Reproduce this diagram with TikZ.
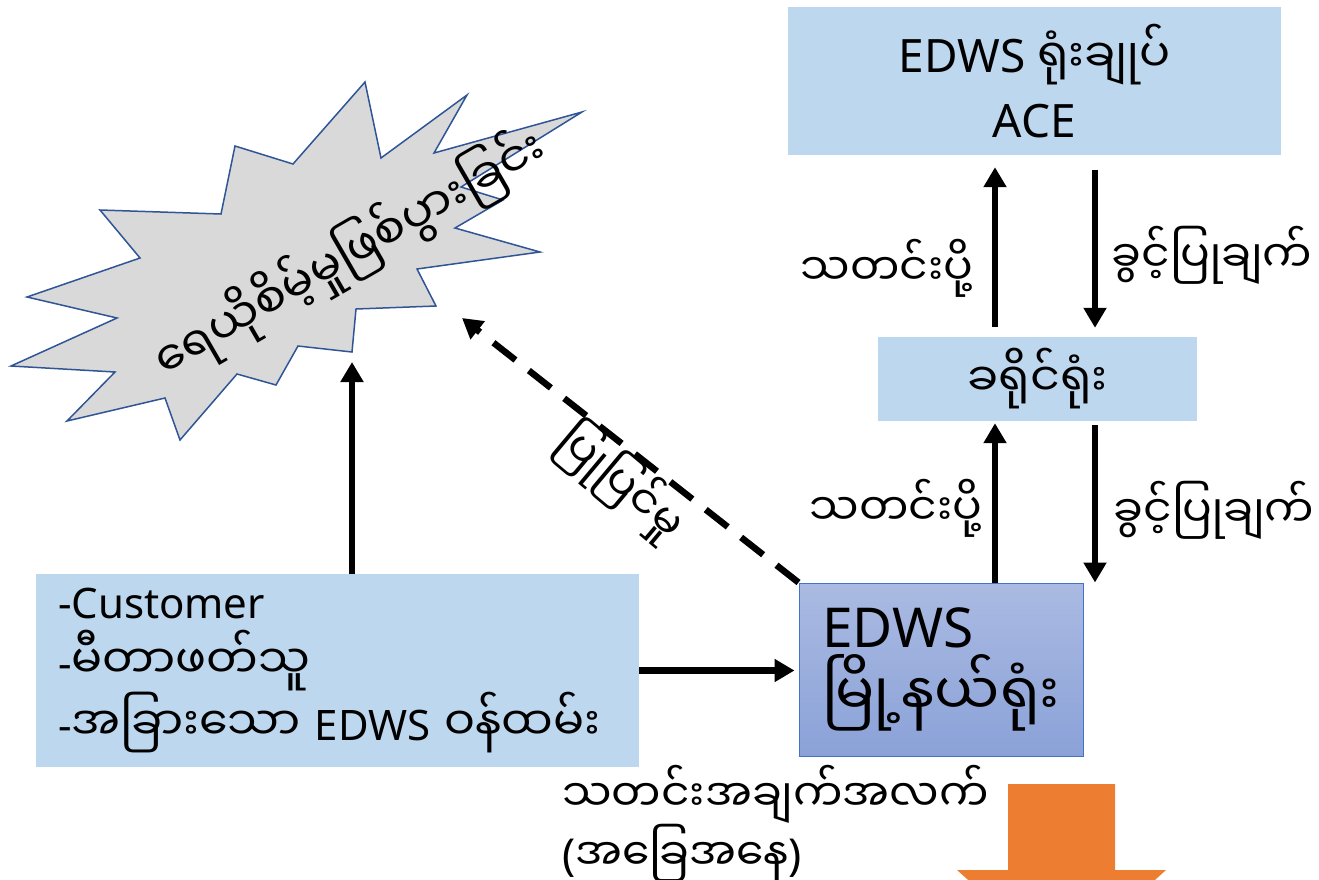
\documentclass[tikz,border=0pt]{standalone}
\usepackage{fontspec}
\setmainfont{Noto Sans}
\newfontfamily\mm[Script=Myanmar]{Noto Sans Myanmar UI}
\usetikzlibrary{arrows.meta,positioning}
\definecolor{boxblue}{RGB}{189,215,238}
\definecolor{starfill}{RGB}{217,217,217}
\definecolor{starline}{RGB}{47,85,151}
\definecolor{towntop}{RGB}{170,186,226}
\definecolor{townbot}{RGB}{139,162,216}
\definecolor{townline}{RGB}{68,114,196}
\definecolor{flow}{RGB}{237,125,49}
\tikzset{
  office/.style={fill=boxblue, inner sep=0pt, align=center},
  flowarrow/.style={line width=6.5pt, -{Triangle[width=22pt,length=20pt]}},
  lbl/.style={font=\mm\fontsize{44}{56}\selectfont, inner sep=0pt},
}
\begin{document}
\begin{tikzpicture}[x=1pt,y=-1pt]
\useasboundingbox (0,0) rectangle (1319,879);

% burst
\draw[fill=starfill, draw=starline, line width=1.5pt, line join=miter]
  (365,82) -- (381,158) -- (467,95) -- (434,153) -- (582,112)
  -- (461,187) -- (503,200) -- (455,228) -- (540,252) -- (417,269)
  -- (436,306) -- (356,309) -- (352,352) -- (298,346) -- (276,385)
  -- (237,374) -- (180,440) -- (165,398) -- (67,421) -- (115,372)
  -- (11,366) -- (117,318) -- (27,297) -- (140,258) -- (100,210)
  -- (221,214) -- (235,146) -- (293,164) -- cycle;
\node[lbl, font=\mm\fontsize{47}{56}\selectfont, rotate=30] (leak) at (350,254)
  {ရေယိုစိမ့်မှုဖြစ်ပွားခြင်း};
\coordinate (leakin) at (352,362);
\coordinate (leakfix) at (462,318);

% offices
\node[office, minimum width=493pt, minimum height=148pt,
  font=\fontsize{46}{65}\selectfont] (hq) at (1034.5,81)
  {EDWS {\mm ရုံးချုပ်}\\ACE};
\node[office, minimum width=319pt, minimum height=84pt,
  font=\mm\fontsize{46}{60}\selectfont] (district) at (1037.5,379) {ခရိုင်ရုံး};
\node[draw=townline, line width=1pt, top color=towntop, bottom color=townbot,
  minimum width=284pt, minimum height=173pt, inner xsep=23pt, inner ysep=0pt,
  text width=238pt, align=left, font=\fontsize{55}{68}\selectfont]
  (town) at (941,669.5) {EDWS\\{\mm\fontsize{58}{68}\selectfont မြို့နယ်ရုံး}};
\node[office, minimum width=603pt, minimum height=193pt, inner xsep=22pt,
  text width=559pt, align=left, font=\fontsize{42}{60}\selectfont]
  (staff) at (337.5,670.5)
  {-Customer\\-{\mm\fontsize{46}{60}\selectfont မီတာဖတ်သူ}\\
   -{\mm\fontsize{46}{60}\selectfont အခြားသော} EDWS {\mm\fontsize{46}{60}\selectfont ဝန်ထမ်း}};

% connectors
\coordinate (upline) at (995,0);
\coordinate (downline) at (1095,0);
\draw[flowarrow] (staff.north -| leakin) -- (leakin);
\draw[flowarrow, shorten >=4pt] (staff.east) -- (staff.east -| town.west);
\draw[flowarrow, dash pattern=on 28pt off 17pt] (town.north west) -- (leakfix);
\draw[flowarrow, shorten >=2pt] (town.north -| upline) -- (district.south -| upline);
\draw[flowarrow, shorten <=4pt] (district.south -| downline) -- (town.north -| downline);
\draw[flowarrow, shorten <=10pt, shorten >=12pt] (district.north -| upline) -- (hq.south -| upline);
\draw[flowarrow, shorten <=15pt, shorten >=9pt] (hq.south -| downline) -- (district.north -| downline);

% labels
\node[lbl] (reportup) at (887,268) {သတင်းပို့};
\node[lbl] (reportlow) at (896,508) {သတင်းပို့};
\node[lbl] (permitup) at (1212,255) {ခွင့်ပြုချက်};
\node[lbl] (permitlow) at (1214,510) {ခွင့်ပြုချက်};
\node[lbl, rotate=-40] (repair) at (621,482) {ပြုပြင်မှု};
\node[lbl, anchor=north west, align=left] (status) at (562,765)
  {သတင်းအချက်အလက်\\{\normalfont(}အခြေအနေ{\normalfont)}};

% flow
\fill[flow] (1008,784) -- (1115,784) -- (1115,870) -- (1166,870)
  -- (1062,964) -- (957,870) -- (1008,870) -- cycle;
\end{tikzpicture}
\end{document}
